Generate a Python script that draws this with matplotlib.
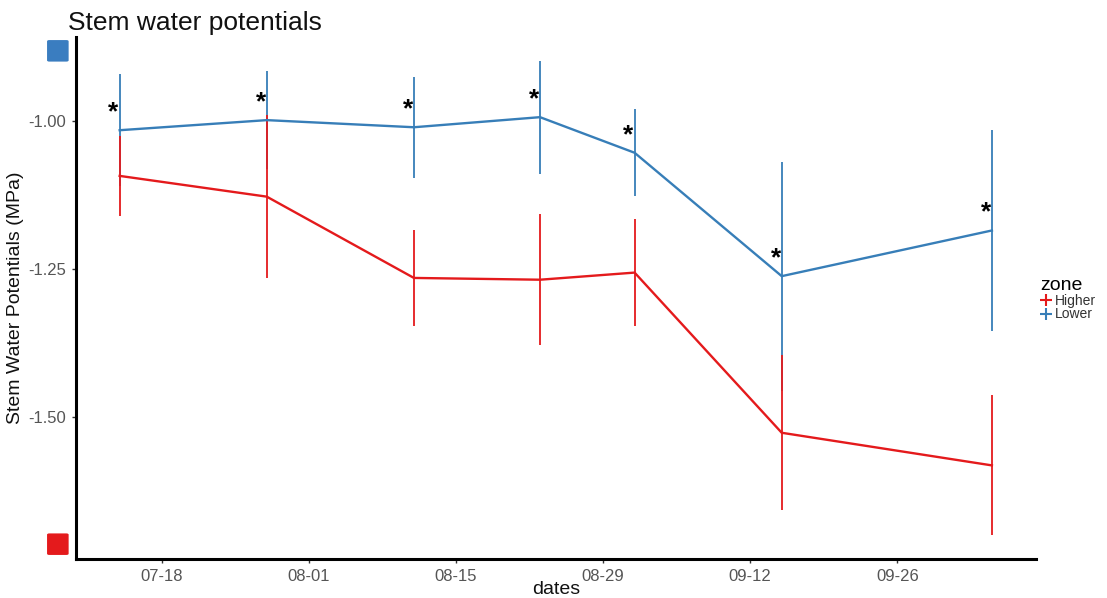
import numpy as np
import pandas as pd
import matplotlib
matplotlib.use('Agg')
import matplotlib.pyplot as plt
import matplotlib.dates as mdates
from matplotlib.lines import Line2D
from matplotlib.patches import FancyBboxPatch

plt.rcParams['font.family'] = ['Liberation Sans', 'DejaVu Sans']

# sampling dates
dates = pd.to_datetime(['2017-07-14', '2017-07-28', '2017-08-11', '2017-08-23',
                        '2017-09-01', '2017-09-15', '2017-10-05'])
higher_mean = [-1.093, -1.128, -1.265, -1.268, -1.256, -1.526, -1.581]
higher_sd = [0.068, 0.137, 0.081, 0.110, 0.090, 0.131, 0.118]
lower_mean = [-1.016, -0.999, -1.011, -0.994, -1.054, -1.262, -1.185]
lower_sd = [0.094, 0.083, 0.085, 0.095, 0.073, 0.193, 0.170]
signif = ['*', '*', '*', '*', '*', '*', '*']
tick_dates = pd.to_datetime(['2017-07-18', '2017-08-01', '2017-08-15', '2017-08-29',
                             '2017-09-12', '2017-09-26'])
y_ticks = [-1.00, -1.25, -1.50]

RED = '#E41A1C'
BLUE = '#377EB8'

fig = plt.figure(figsize=(11.07, 5.98), dpi=100)
ax = fig.add_axes([0.0687, 0.065, 0.8672, 0.873])

hm = np.array(higher_mean); hs = np.array(higher_sd)
lm = np.array(lower_mean); ls = np.array(lower_sd)

# error bars (blue underneath red), then lines
ax.vlines(dates, lm - ls, lm + ls, color=BLUE, lw=1.3, zorder=2)
ax.vlines(dates, hm - hs, hm + hs, color=RED, lw=1.3, zorder=3)
ax.plot(dates, hm, color=RED, lw=1.7, zorder=4)
ax.plot(dates, lm, color=BLUE, lw=1.7, zorder=5)

for d, m, s in zip(dates, lower_mean, signif):
    ax.text(d - pd.Timedelta(hours=14), m + 0.030, s, ha='center', va='center',
            fontsize=19, fontweight='bold', color='black', zorder=6)

ax.set_xlim(pd.Timestamp('2017-07-14') - pd.Timedelta(days=4.15),
            pd.Timestamp('2017-10-05') + pd.Timedelta(days=4.2))
ax.set_ylim(-1.739, -0.859)

ax.set_xticks(tick_dates)
ax.xaxis.set_major_formatter(mdates.DateFormatter('%m-%d'))
ax.set_yticks(y_ticks)
ax.set_yticklabels(['%.2f' % v for v in y_ticks])

for side in ['top', 'right']:
    ax.spines[side].set_visible(False)
for side in ['left', 'bottom']:
    ax.spines[side].set_linewidth(2.2)
    ax.spines[side].set_color('black')
ax.tick_params(axis='both', colors='#333333', labelcolor='#555555', labelsize=12,
               length=3, width=1, pad=4)

ax.set_xlabel('dates', fontsize=14, color='#111111', labelpad=-2)
ax.set_ylabel('Stem Water Potentials (MPa)', fontsize=14, color='#111111', labelpad=3)
fig.text(0.061, 0.962, 'Stem water potentials', fontsize=19, color='#111111',
         ha='left', va='center')

# coloured squares at the left of the axis
for yc, col in [(0.915, '#3A7DC0'), (0.090, RED)]:
    fig.patches.append(FancyBboxPatch((0.0425, yc - 0.018), 0.0195, 0.036,
                                      boxstyle='round,pad=0,rounding_size=0.002',
                                      transform=fig.transFigure, fc=col, ec='none'))

handles = [Line2D([0], [0], color=RED, marker='+', ms=8, mew=1.5, ls='none'),
           Line2D([0], [0], color=BLUE, marker='+', ms=8, mew=1.5, ls='none')]
leg = fig.legend(handles, ['Higher', 'Lower'], title='zone', loc='center left',
                 bbox_to_anchor=(0.935, 0.5), frameon=False, fontsize=10,
                 title_fontsize=14, handlelength=0.8, handletextpad=0.2,
                 labelspacing=0.0, borderaxespad=0)
leg._legend_box.align = 'left'
for t in leg.get_texts():
    t.set_color('#333333')

fig.savefig('out.png', dpi=100)
